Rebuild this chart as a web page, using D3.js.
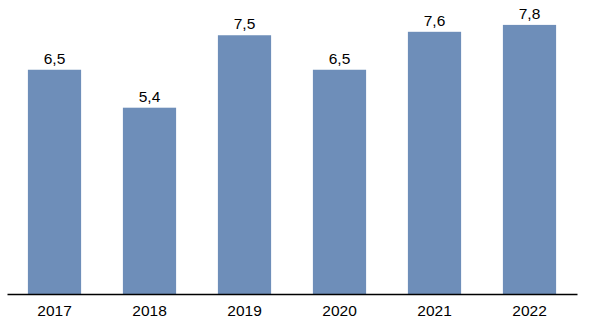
<!DOCTYPE html>
<html>
<head>
<meta charset="utf-8">
<script src="https://cdn.jsdelivr.net/npm/d3@7"></script>
<style>
  html, body { margin: 0; padding: 0; background: #fff; }
  svg { display: block; }
  text { font-family: "Liberation Sans", Arial, sans-serif; }
</style>
</head>
<body>
<svg id="chart" width="592" height="326"></svg>
<script>
// Annual values, one per year
const years = ["2017", "2018", "2019", "2020", "2021", "2022"];
const values = [6.5, 5.4, 7.5, 6.5, 7.6, 7.8];

const svg = d3.select("#chart");
const left = 7, right = 577, baseline = 294;

const x = d3.scaleBand()
  .domain(years)
  .range([left, right])
  .paddingInner(0.44)
  .paddingOuter(0.22);

const y = d3.scaleLinear()
  .domain([0, 8])
  .range([baseline, baseline - 8 * 34.5]);

const fmt = v => d3.format(".1f")(v).replace(".", ",");

const data = years.map((yr, i) => ({ year: yr, value: values[i] }));

svg.append("g").selectAll("rect")
  .data(data)
  .join("rect")
  .attr("x", d => x(d.year))
  .attr("y", d => y(d.value))
  .attr("width", x.bandwidth())
  .attr("height", d => baseline - y(d.value))
  .attr("fill", "#6e8eb9");

svg.append("g").selectAll("text")
  .data(data)
  .join("text")
  .attr("x", d => x(d.year) + x.bandwidth() / 2)
  .attr("y", d => y(d.value) - 6)
  .attr("text-anchor", "middle")
  .attr("font-size", 15.5)
  .attr("fill", "#000")
  .text(d => fmt(d.value));

const axis = d3.axisBottom(x).tickSize(0).tickPadding(11);
const gx = svg.append("g")
  .attr("transform", `translate(0,${baseline})`)
  .call(axis);
gx.select(".domain").attr("stroke", "#000").attr("stroke-width", 1.3);
gx.selectAll("text")
  .attr("font-size", 15.5)
  .attr("font-family", "Liberation Sans, Arial, sans-serif")
  .attr("fill", "#000");
</script>
</body>
</html>
